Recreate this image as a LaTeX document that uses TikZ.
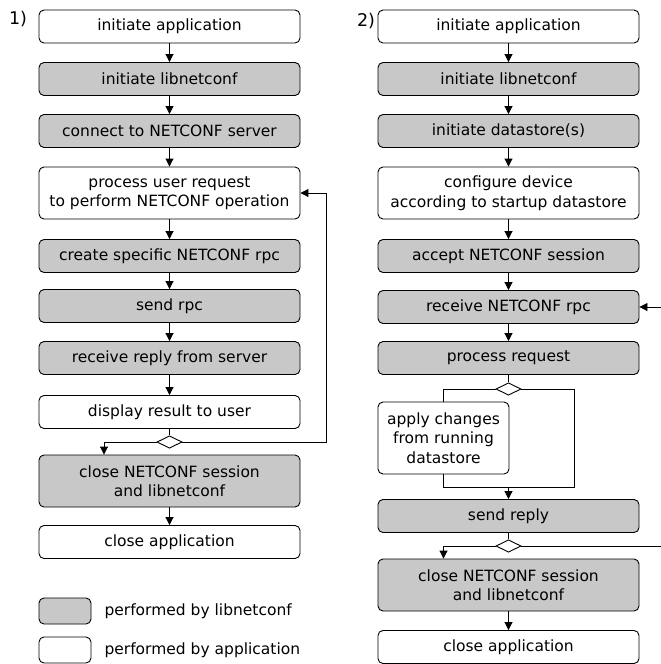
\documentclass[tikz,border=0pt]{standalone}
\usepackage{fontspec}
\setmainfont{DejaVu Sans}
\usetikzlibrary{arrows.meta,shapes.geometric}
\definecolor{libgray}{RGB}{200,200,200}
\tikzset{
	lib/.style={draw, line width=0.9pt, rounded corners=5pt, fill=libgray, minimum width=261pt, minimum height=33pt, inner sep=0pt, align=center, font=\fontsize{15.5}{19.5}\selectfont},
	app/.style={lib, fill=white},
	flow/.style={line width=0.9pt, -{Triangle[length=8pt,width=8pt]}},
	line/.style={line width=0.9pt},
	choice/.style={draw, line width=0.9pt, diamond, fill=white, aspect=2, minimum width=25pt, minimum height=12.5pt, inner sep=0pt},
	tag/.style={font=\fontsize{15.5}{19.5}\selectfont}
}

\begin{document}
\begin{tikzpicture}[x=1pt, y=-1pt]
		%%%%% START %%%%%
		\useasboundingbox (0, 0) rectangle (661, 664);
		\clip (0, 0) rectangle (661, 664);
		
		%% 1) client
		\node[tag, font=\fontsize{17.5}{20}\selectfont] (one) at (18, 19) {1)};
		\node[app] (a1) at (169.5, 26.5) {initiate application};
		\node[lib] (a2) at (169.5, 79) {initiate libnetconf};
		\node[lib] (a3) at (169.5, 131) {connect to NETCONF server};
		\node[app, minimum height=52pt] (a4) at (169.5, 193) {process user request\\to perform NETCONF operation};
		\node[lib] (a5) at (169.5, 256) {create specific NETCONF rpc};
		\node[lib] (a6) at (169.5, 306) {send rpc};
		\node[lib] (a7) at (169.5, 358) {receive reply from server};
		\node[app] (a8) at (169.5, 412) {display result to user};
		\node[choice] (ad) at (169.5, 442) {};
		\node[lib, minimum height=52pt] (a9) at (169.5, 481) {close NETCONF session\\and libnetconf};
		\node[app] (a10) at (169.5, 542) {close application};
		\coordinate (aleft) at (104, 442);
		\coordinate (aright) at (326, 442);
		
		\draw[flow] (a1) -- (a2);
		\draw[flow] (a2) -- (a3);
		\draw[flow] (a3) -- (a4);
		\draw[flow] (a4) -- (a5);
		\draw[flow] (a5) -- (a6);
		\draw[flow] (a6) -- (a7);
		\draw[flow] (a7) -- (a8);
		\draw[line] (a8) -- (ad);
		\draw[flow] (ad.west) -| (a9.north -| aleft);
		\draw[flow] (ad.east) -- (aright) |- (a4.east);
		\draw[flow] (a9) -- (a10);
		
		%% legend
		\node[lib, minimum width=52pt, minimum height=26pt] (kl) at (65, 611) {};
		\node[app, minimum width=52pt, minimum height=26pt] (ka) at (65, 650) {};
		\node[tag, anchor=west] at (101, 611) {performed by libnetconf};
		\node[tag, anchor=west] at (101, 650) {performed by application};
		
		%% 2) server
		\node[tag, font=\fontsize{17.5}{20}\selectfont] (two) at (366, 21) {2)};
		\node[app] (b1) at (508.5, 26.5) {initiate application};
		\node[lib] (b2) at (508.5, 79) {initiate libnetconf};
		\node[lib] (b3) at (508.5, 131) {initiate datastore(s)};
		\node[app, minimum height=52pt] (b4) at (508.5, 193) {configure device\\according to startup datastore};
		\node[lib] (b5) at (508.5, 256) {accept NETCONF session};
		\node[lib] (b6) at (508.5, 307) {receive NETCONF rpc};
		\node[lib] (b7) at (508.5, 358) {process request};
		\node[choice] (bd1) at (508.5, 389) {};
		\node[app, minimum width=131pt, minimum height=72pt] (b8) at (443.5, 438) {apply changes\\from running\\datastore};
		\node[lib] (b9) at (508.5, 516) {send reply};
		\node[choice] (bd2) at (508.5, 546) {};
		\node[lib, minimum height=52pt] (b10) at (508.5, 585) {close NETCONF session\\and libnetconf};
		\node[app] (b11) at (508.5, 647) {close application};
		\coordinate (bright) at (574, 487);
		\coordinate (bedge) at (672, 546);
		
		\draw[flow] (b1) -- (b2);
		\draw[flow] (b2) -- (b3);
		\draw[flow] (b3) -- (b4);
		\draw[flow] (b4) -- (b5);
		\draw[flow] (b5) -- (b6);
		\draw[flow] (b6) -- (b7);
		\draw[line] (b7) -- (bd1);
		\draw[line] (bd1.west) -| (b8.north);
		\draw[line] (bd1.east) -| (bright) -- (b8.south |- bright) -- (b8.south);
		\draw[flow] (b9.north |- bright) -- (b9.north);
		\draw[line] (b9) -- (bd2);
		\draw[flow] (bd2.west) -| (b10.north -| b8.south);
		\draw[flow] (bd2.east) -- (bedge) |- (b6.east);
		\draw[flow] (b10) -- (b11);
		%%%%% END %%%%%
	\end{tikzpicture}
\end{document}
